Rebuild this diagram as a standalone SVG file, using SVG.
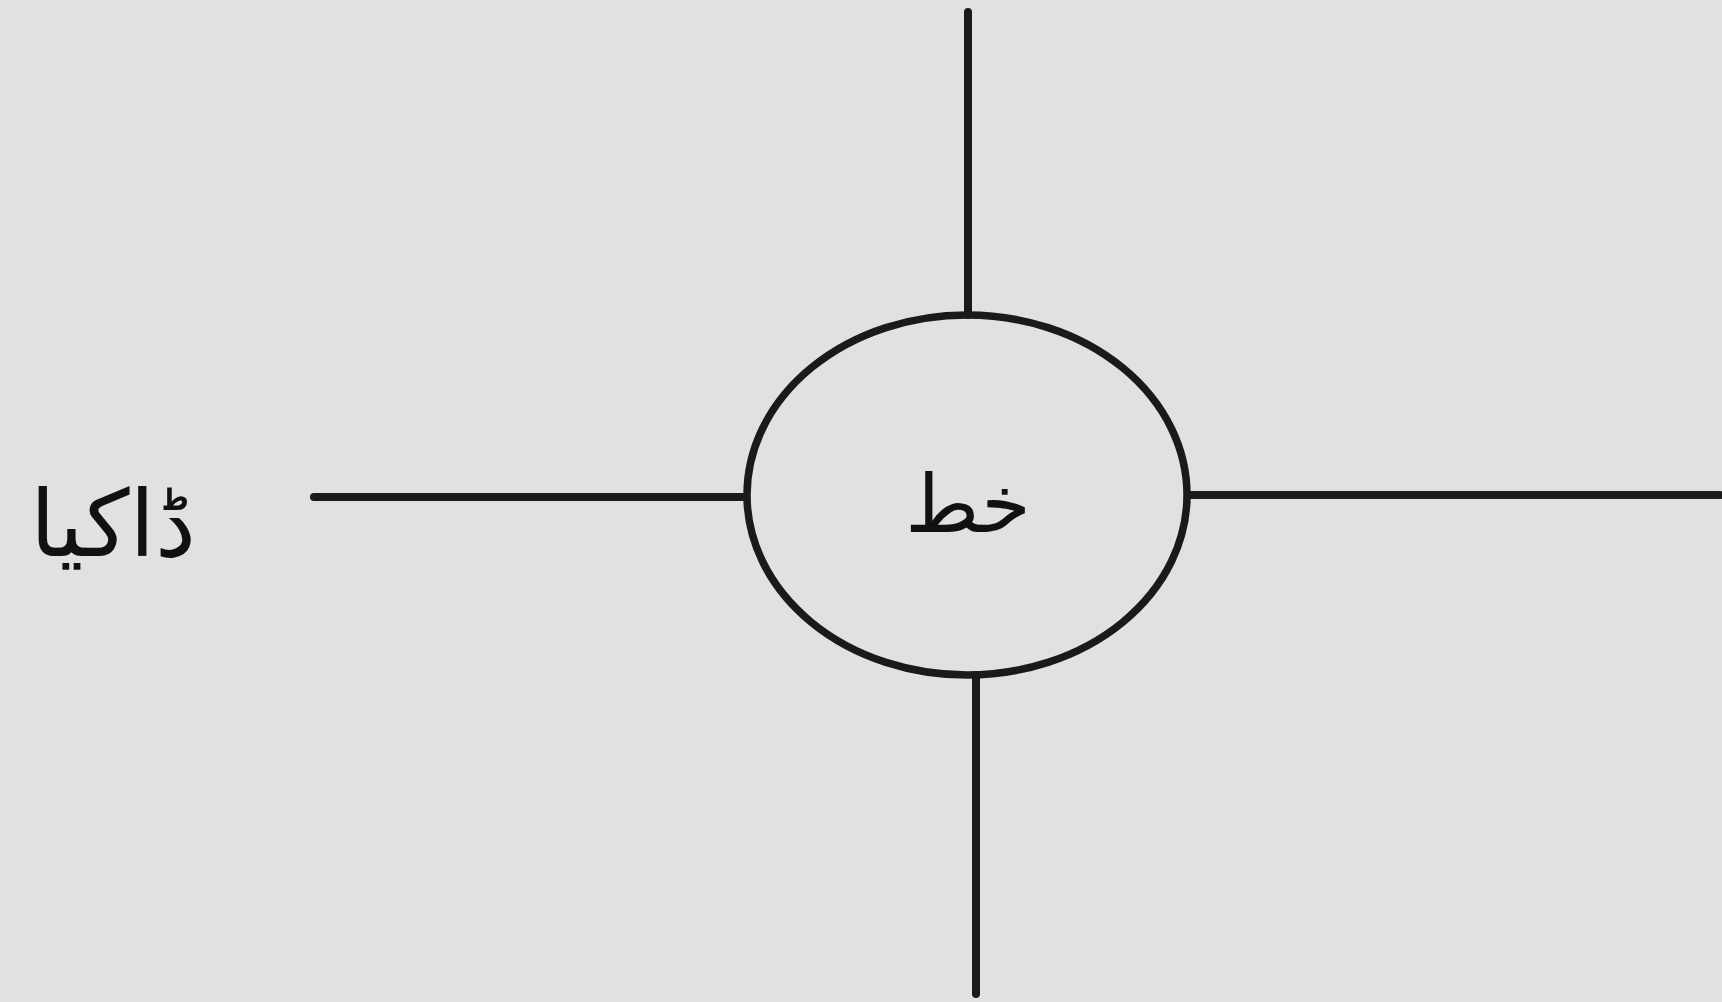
<svg xmlns="http://www.w3.org/2000/svg" width="1722" height="1002" viewBox="0 0 1722 1002">
<style>
.ln{stroke:#1a1a1a;stroke-width:8;stroke-linecap:round;fill:none}
.nd{stroke:#1a1a1a;stroke-width:7.5;fill:none}
.tx{font-family:"DejaVu Sans","Noto Sans",sans-serif;fill:#111;text-anchor:middle}
</style>
<rect width="1722" height="1002" fill="#e1e1e1"/>
<g id="connectors">
<line class="ln" x1="968" y1="12" x2="968" y2="315"/>
<line class="ln" x1="976" y1="675" x2="976" y2="994"/>
<line class="ln" x1="1190" y1="495" x2="1720" y2="495"/>
<line class="ln" x1="314" y1="497" x2="746" y2="497"/>
</g>
<g id="node-center">
<ellipse class="nd" cx="967" cy="495" rx="220" ry="180"/>
<text class="tx" x="968" y="532" font-size="80" direction="rtl">خط</text>
</g>
<g id="label-left">
<text class="tx" x="113" y="556" font-size="92" direction="rtl">ڈاکیا</text>
</g>
</svg>
